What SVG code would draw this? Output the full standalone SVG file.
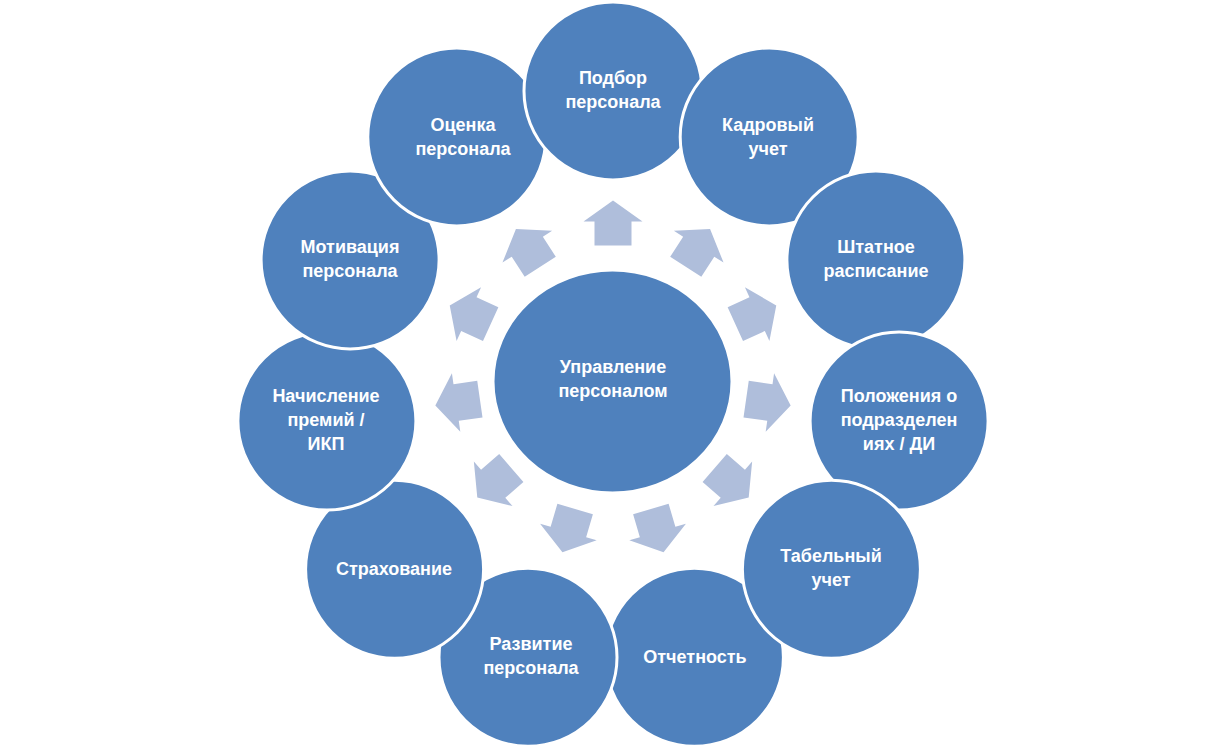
<svg xmlns="http://www.w3.org/2000/svg" width="1223" height="748" viewBox="0 0 1223 748">
<defs>
<style>
.c{fill:#4F81BD;stroke:#FFFFFF;stroke-width:3}
.a{fill:#AFBEDB}
.t{fill:#FFFFFF;font-family:"Liberation Sans",Arial,sans-serif;font-weight:bold;font-size:18px;text-anchor:middle}
</style>
<polygon id="arr" points="0,-22.5 29.5,-1.5 18.5,-1.5 18.5,22.5 -18.5,22.5 -18.5,-1.5 -29.5,-1.5"/>
</defs>
<rect width="1223" height="748" fill="#FFFFFF"/>
<g id="connectors" class="a">
<use href="#arr" transform="translate(613 223) rotate(0)"/>
<use href="#arr" transform="translate(697.9 247.9) rotate(32.727)"/>
<use href="#arr" transform="translate(755.8 314.8) rotate(65.455)"/>
<use href="#arr" transform="translate(768.4 402.3) rotate(98.182)"/>
<use href="#arr" transform="translate(731.7 482.8) rotate(130.909)"/>
<use href="#arr" transform="translate(657.2 530.6) rotate(163.636)"/>
<use href="#arr" transform="translate(568.8 530.6) rotate(196.364)"/>
<use href="#arr" transform="translate(494.3 482.8) rotate(229.091)"/>
<use href="#arr" transform="translate(457.6 402.3) rotate(261.818)"/>
<use href="#arr" transform="translate(470.2 314.8) rotate(294.545)"/>
<use href="#arr" transform="translate(528.1 247.9) rotate(327.273)"/>
</g>
<g id="center">
<ellipse class="c" cx="612.5" cy="381.5" rx="119.5" ry="111.5"/>
<text class="t" x="613" y="373">Управление</text>
<text class="t" x="613" y="397">персоналом</text>
</g>
<g id="n5">
<circle class="c" cx="694.4" cy="657.3" r="89"/>
<text class="t" x="695" y="663">Отчетность</text>
</g>
<g id="n6">
<circle class="c" cx="528" cy="657.3" r="89"/>
<text class="t" x="531" y="650">Развитие</text>
<text class="t" x="531" y="674">персонала</text>
</g>
<g id="n7">
<circle class="c" cx="394.6" cy="569.3" r="89"/>
<text class="t" x="394" y="575">Страхование</text>
</g>
<g id="n8">
<circle class="c" cx="326.9" cy="421.1" r="89"/>
<text class="t" x="326" y="402">Начисление</text>
<text class="t" x="326" y="426">премий /</text>
<text class="t" x="326" y="450">ИКП</text>
</g>
<g id="n9">
<circle class="c" cx="350.1" cy="259.9" r="89"/>
<text class="t" x="350" y="253">Мотивация</text>
<text class="t" x="350" y="277">персонала</text>
</g>
<g id="n10">
<circle class="c" cx="456.8" cy="136.9" r="89"/>
<text class="t" x="463" y="131">Оценка</text>
<text class="t" x="463" y="155">персонала</text>
</g>
<g id="n0">
<circle class="c" cx="613" cy="91" r="89"/>
<text class="t" x="613" y="84">Подбор</text>
<text class="t" x="613" y="108">персонала</text>
</g>
<g id="n1">
<circle class="c" cx="769.2" cy="136.9" r="89"/>
<text class="t" x="768" y="131">Кадровый</text>
<text class="t" x="768" y="155">учет</text>
</g>
<g id="n2">
<circle class="c" cx="875.9" cy="259.9" r="89"/>
<text class="t" x="876" y="253">Штатное</text>
<text class="t" x="876" y="277">расписание</text>
</g>
<g id="n3">
<circle class="c" cx="899.1" cy="421.1" r="89"/>
<text class="t" x="899" y="402">Положения о</text>
<text class="t" x="899" y="426">подразделен</text>
<text class="t" x="899" y="450">иях / ДИ</text>
</g>
<g id="n4">
<circle class="c" cx="831.4" cy="569.3" r="89"/>
<text class="t" x="831" y="562">Табельный</text>
<text class="t" x="831" y="586">учет</text>
</g>
</svg>
